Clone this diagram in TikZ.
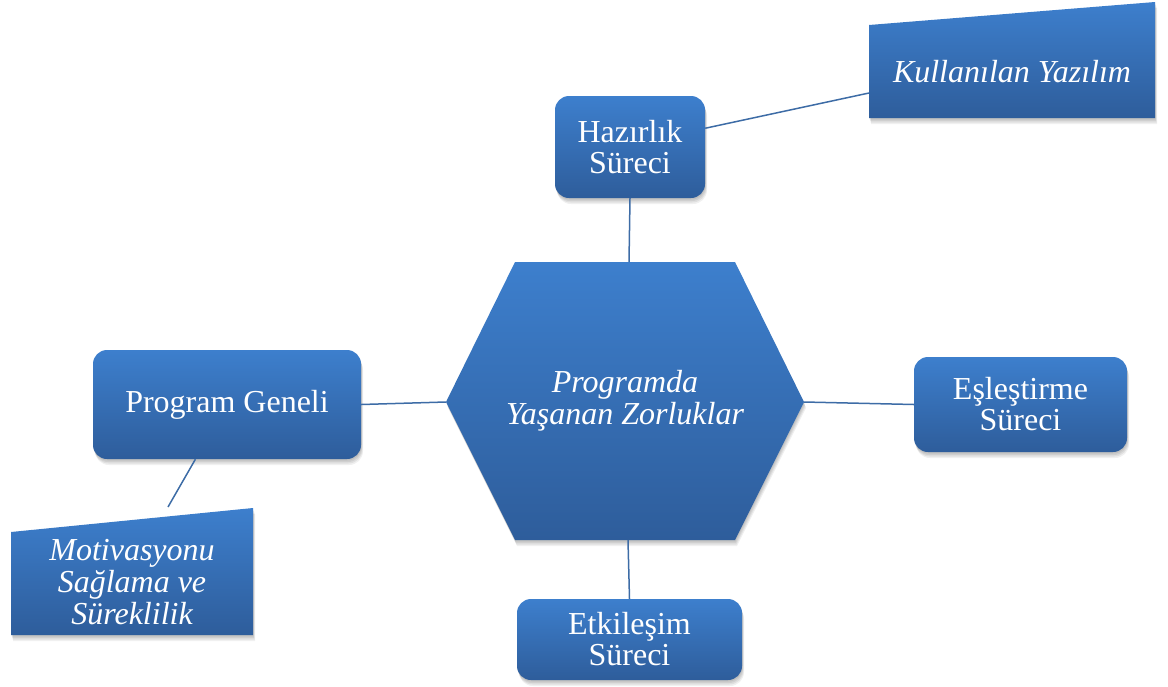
\documentclass[tikz,border=0pt]{standalone}
\usepackage{fontspec}
\setmainfont{Liberation Serif}
\definecolor{boxtop}{HTML}{3D7FCD}
\definecolor{boxbot}{HTML}{2E5D9B}
\definecolor{linkc}{HTML}{3D6CA6}
\begin{document}
\begin{tikzpicture}[x=1pt,y=-1pt,
  softshadow/.style={
    preaction={fill=black,opacity=0.07,transform canvas={shift={(0.5pt,-1.5pt)}}},
    preaction={fill=black,opacity=0.07,transform canvas={shift={(1pt,-3pt)}}},
    preaction={fill=black,opacity=0.07,transform canvas={shift={(1.5pt,-4.5pt)}}},
    preaction={fill=black,opacity=0.06,transform canvas={shift={(2pt,-6pt)}}}},
  fill3d/.style={softshadow,top color=boxtop,bottom color=boxbot},
  rbox/.style={fill3d,rounded corners=14pt,inner sep=0pt,align=center,
    text=white,font=\fontsize{32}{31}\selectfont},
  label/.style={inner sep=0pt,align=center,text=white,
    font=\fontsize{32}{32}\selectfont\itshape},
  link/.style={draw=linkc,line width=1.5pt}]
\useasboundingbox (0,0) rectangle (1168,686);

% central hexagon
\path[fill3d] (515,262) -- (735,262) -- (804,402) -- (735,540)
  -- (515,540) -- (446,402) -- cycle;
\coordinate (htop) at (629,262);
\coordinate (hbot) at (628,540);
\coordinate (hleft) at (446,402);
\coordinate (hright) at (804,402);
\node[label] (core) at (625,401) {Programda\\Yaşanan Zorluklar};

% slanted boxes
\path[fill3d] (869,25) -- (1155,2) -- (1155,118) -- (869,118) -- cycle;
\coordinate (kyin) at (869,93);
\node[label] (ky) at (1012,72) {Kullanılan Yazılım};

\path[fill3d] (11,532) -- (253,508) -- (253,635) -- (11,635) -- cycle;
\coordinate (motin) at (168,507);
\node[label] (mot) at (132,582) {Motivasyonu\\Sağlama ve\\Süreklilik};

% rounded boxes
\node[rbox,minimum width=150pt,minimum height=102pt] (haz) at (630,147) {Hazırlık\\Süreci};
\node[rbox,minimum width=268pt,minimum height=109pt] (pg) at (227,404.5) {Program Geneli};
\node[rbox,minimum width=213pt,minimum height=95pt] (es) at (1020.5,404.5) {Eşleştirme\\Süreci};
\node[rbox,minimum width=225pt,minimum height=81pt] (et) at (629.5,639.5) {Etkileşim\\Süreci};

% connectors
\draw[link] (haz.south) -- (htop);
\draw[link] (haz.14) -- (kyin);
\draw[link] (pg.east) -- (hleft);
\draw[link] (pg.240) -- (motin);
\draw[link] (hright) -- (es.west);
\draw[link] (hbot) -- (et.north);
\end{tikzpicture}
\end{document}
